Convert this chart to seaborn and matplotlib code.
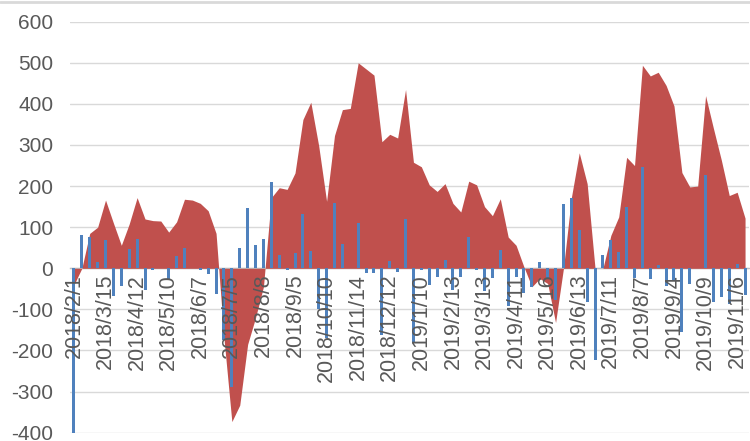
import numpy as np
import pandas as pd
import matplotlib
matplotlib.use("Agg")
import matplotlib.pyplot as plt
import seaborn as sns
from matplotlib.ticker import FixedLocator

# ---- data (weekly categories) ----
area_values = [
    -40, 0, 85, 100, 166, 110, 56, 108, 172, 120,
    116, 115, 88, 113, 168, 166, 158, 140, 85, -170,
    -373, -333, -185, -120, -45, 172, 196, 192, 232, 362,
    404, 298, 163, 323, 386, 389, 500, 485, 470, 308,
    326, 317, 435, 258, 247, 203, 187, 206, 158, 137,
    212, 203, 150, 128, 169, 76, 56, 3, -45, -25,
    -37, -132, 0, 172, 281, 206, 0, 0, 80, 125,
    270, 250, 494, 468, 477, 445, 395, 233, 198, 200,
    420, 340, 263, 177, 185, 122,
]
bar_values = [
    -400, 82, 75, 16, 68, -68, -43, 47, 71, -52,
    -3, 0, -27, 29, 50, 0, -3, -13, -62, -175,
    -288, 50, 146, 56, 71, 211, 33, -5, 37, 133,
    42, -100, -170, 160, 60, 0, 110, -12, -12, -163,
    18, -8, 120, -180, -5, -41, -20, 20, -52, -20,
    77, -5, -55, -24, 45, -92, -20, -60, -45, 15,
    -24, -77, 156, 172, 93, -82, -223, 32, 70, 40,
    149, -23, 247, -27, 9, -43, -30, -154, -38, 0,
    226, -82, -71, -88, 10, -65,
]
tick_labels = [
    "2018/2/1", "2018/3/15", "2018/4/12", "2018/5/10", "2018/6/7", "2018/7/5",
    "2018/8/8", "2018/9/5", "2018/10/10", "2018/11/14", "2018/12/12",
    "2019/1/10", "2019/2/13", "2019/3/13", "2019/4/11", "2019/5/16",
    "2019/6/13", "2019/7/11", "2019/8/7", "2019/9/4", "2019/10/9", "2019/11/6",
]
label_step = 4
y_ticks = list(range(-400, 601, 100))

# ---- style ----
sns.set_style("white")
plt.rcParams["font.family"] = ["Liberation Sans", "DejaVu Sans"]
plt.rcParams["axes.unicode_minus"] = False

fig = plt.figure(figsize=(7.5, 4.41), dpi=100)
ax = fig.add_axes([70 / 750, 1 - 432.7 / 441, 679 / 750, (432.7 - 21.7) / 441])

for s in ["left", "right", "top"]:
    ax.spines[s].set_visible(False)
ax.spines["bottom"].set_position(("data", 0))
ax.spines["bottom"].set_color("#BFBFBF")
ax.spines["bottom"].set_linewidth(1)
ax.spines["bottom"].set_zorder(1.5)

idx = np.arange(len(area_values))
ax.fill_between(idx, area_values, 0, color="#C0504D", lw=0, zorder=2)

df = pd.DataFrame({"i": idx, "v": bar_values})
sns.barplot(data=df, x="i", y="v", native_scale=True, color="#4F81BD",
            saturation=1, width=0.38, errorbar=None, ax=ax, zorder=3,
            linewidth=0, edgecolor="none")

ax.set_xlim(-0.5, len(idx) - 0.5)
ax.set_ylim(y_ticks[0], y_ticks[-1])
ax.set_yticks(y_ticks)
ax.yaxis.grid(True, color="#D9D9D9", lw=1)
ax.xaxis.grid(False)

ax.set_xticks(idx[::label_step][:len(tick_labels)])
ax.set_xticklabels(tick_labels)
ax.xaxis.set_minor_locator(FixedLocator(np.arange(len(idx) + 1) - 0.5))
ax.tick_params(axis="x", which="major", length=0, pad=4, labelsize=15.5,
               labelcolor="#595959", labelrotation=90)
ax.tick_params(axis="x", which="minor", length=6, width=1, color="#BFBFBF")
ax.tick_params(axis="y", length=0, pad=12, labelsize=15, labelcolor="#595959")
for lab in ax.get_xticklabels():
    lab.set_verticalalignment("top")
    lab.set_horizontalalignment("center")

ax.set_axisbelow(True)
ax.xaxis.set_zorder(5)
ax.set_xlabel("")
ax.set_ylabel("")

fig.add_artist(plt.Line2D([0, 1], [1 - 1.5 / 441] * 2, color="#D9D9D9",
                          lw=2, transform=fig.transFigure))

fig.savefig("out.png", dpi=100)
